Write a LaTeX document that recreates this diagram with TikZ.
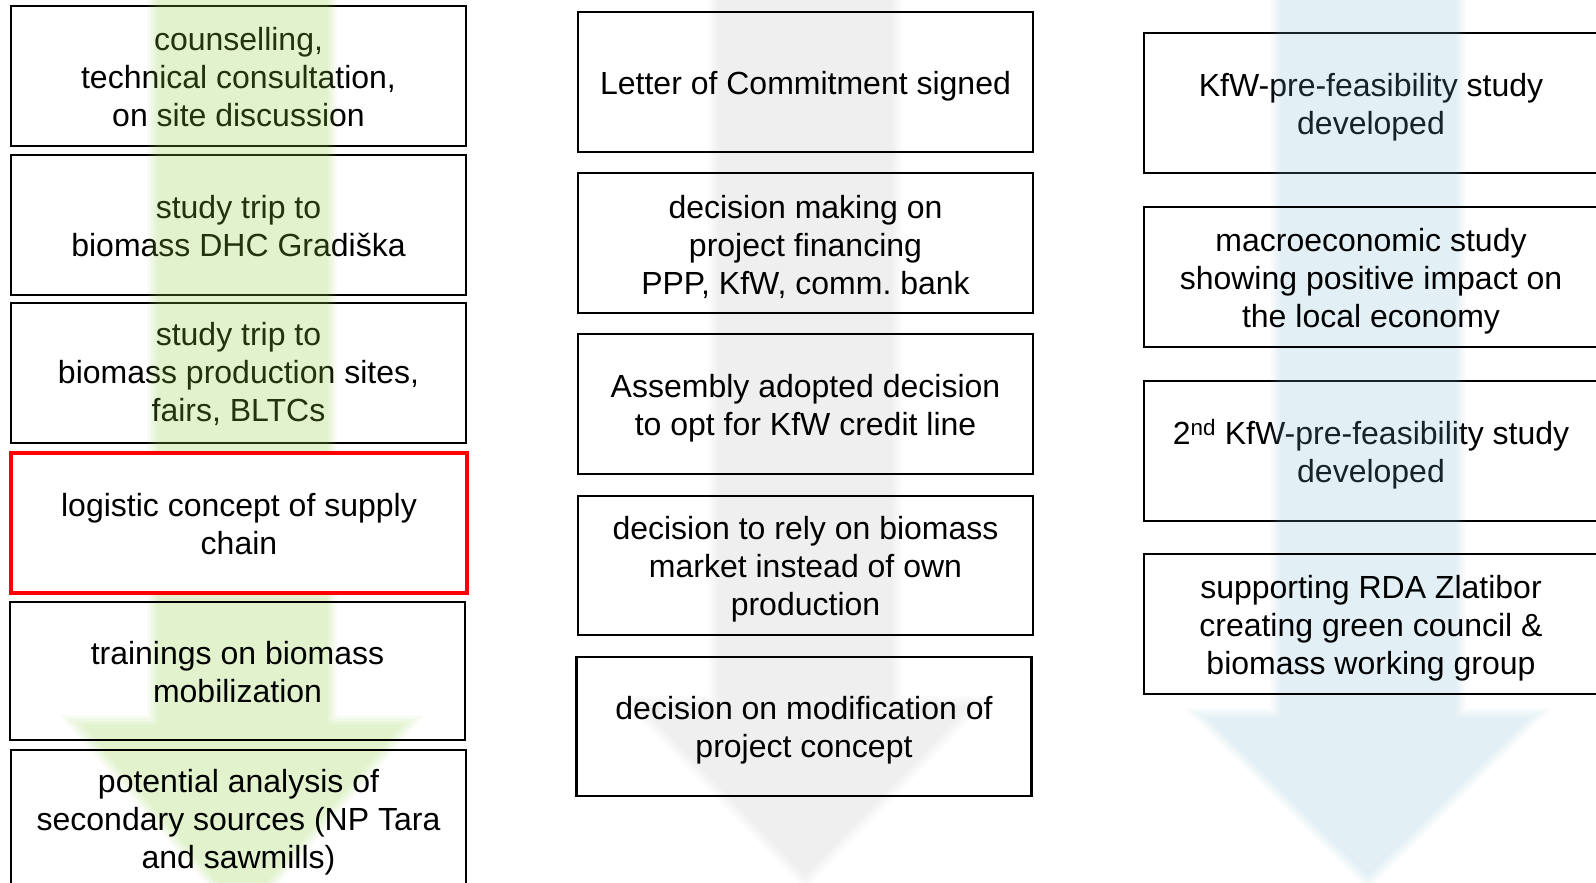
\documentclass[tikz,border=0pt]{standalone}
\usepackage{fontspec}
\setmainfont{Liberation Sans}
\frenchspacing
\definecolor{arrowgreen}{RGB}{143,209,63}
\definecolor{arrowblue}{RGB}{120,190,215}
\definecolor{boxred}{RGB}{255,0,0}
\newcommand\tp{\rule{0pt}{31pt}}
\newcommand\tq{\rule{0pt}{26pt}}
\newcommand\featherarrow[7]{%
  \foreach \d in {-4.5,-1.5,1.5,4.5}{%
    \fill[#6, fill opacity=#7]
      ({#1-#2+\d}, -10) -- ({#1+#2-\d}, -10) -- ({#1+#2-\d}, {#4+\d})
      -- ({#1+#3-2.4*\d}, {#4+\d}) -- (#1, {#5-1.41*\d})
      -- ({#1-#3+2.4*\d}, {#4+\d}) -- ({#1-#2+\d}, {#4+\d}) -- cycle;
  }}
\tikzset{
  box/.style={draw=black, line width=2.6pt, minimum width=455pt, minimum height=140pt,
    align=center, inner sep=0pt, font=\fontsize{32}{38}\selectfont, text=black},
  redbox/.style={box, draw=boxred, line width=4pt, fill=white, minimum width=456pt}
}
\begin{document}
\begin{tikzpicture}[x=1pt, y=-1pt]
\useasboundingbox (0,0) rectangle (1596,883);
\fill[white] (0,0) rectangle (1596,883);
% boxes lying under the arrows (text tinted)
\node[box] (l1) at (238.5,76) {\tq counselling,\\technical consultation,\\on site discussion};
\node[box] (l2) at (238.5,225) {\tq study trip to\\biomass DHC Gradiška};
\node[box] (l3) at (238.5,373) {\tq study trip to\\biomass production sites,\\fairs, BLTCs};
\node[box, minimum width=454pt] (r1) at (1371,103) {\tp KfW-pre-feasibility study\\developed};
\node[box, minimum width=454pt] (r3) at (1371,451) {\tp 2\textsuperscript{nd} KfW-pre-feasibility study\\developed};
% arrows
\featherarrow{242}{90}{171}{720}{918}{arrowgreen}{0.0694}
\featherarrow{805}{92}{177}{700}{883}{black}{0.0152}
\featherarrow{1368}{93}{172}{713}{883}{arrowblue}{0.0543}
% boxes above the arrows
\node[redbox] (l4) at (239,523) {\tq logistic concept of supply\\chain};
\node[box, minimum height=138pt] (l5) at (237.5,671) {\tq trainings on biomass\\mobilization};
\node[box, minimum height=142pt] (l6) at (238.5,821) {\tq potential analysis of\\secondary sources (NP Tara\\and sawmills)};
\node[box] (m1) at (805.5,82) {\tp Letter of Commitment signed};
\node[box] (m2) at (805.5,243) {\tp decision making on\\project financing\\PPP, KfW, comm. bank};
\node[box] (m3) at (805.5,404) {\tp Assembly adopted decision\\to opt for KfW credit line};
\node[box, minimum height=139pt] (m4) at (805.5,565.5) {\tp decision to rely on biomass\\market instead of own\\production};
\node[box, minimum height=139pt] (m5) at (804,726.5) {\tp decision on modification of\\project concept};
\node[box, minimum width=454pt] (r2) at (1371,277) {\tp macroeconomic study\\showing positive impact on\\the local economy};
\node[box, minimum width=454pt] (r4) at (1371,624) {\tp supporting RDA Zlatibor\\creating green council \&\\biomass working group};
\end{tikzpicture}
\end{document}
